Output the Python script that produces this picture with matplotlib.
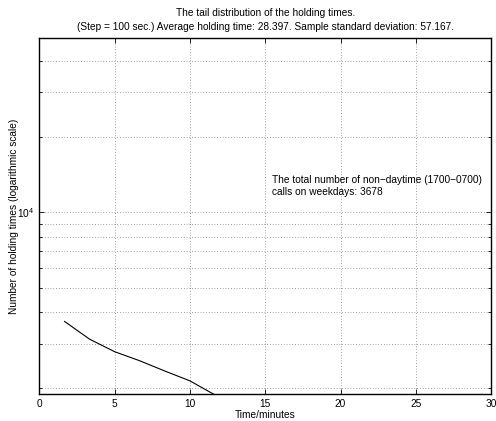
import numpy as np
import matplotlib
matplotlib.use("Agg")
import matplotlib.pyplot as plt
from matplotlib.ticker import LogLocator, NullFormatter, FixedLocator

plt.rcParams['font.family'] = ['Liberation Sans', 'DejaVu Sans']

# Holding-time tail distribution (step = 100 s)
time_min = [1.667, 3.333, 5.0, 6.667, 8.333, 10.0, 11.667]
counts = [3678, 3126, 2787, 2565, 2335, 2134, 1875]
x_ticks = [0, 5, 10, 15, 20, 25, 30]

title_lines = ["The tail distribution of the holding times.",
               "(Step = 100 sec.) Average holding time: 28.397. Sample standard deviation: 57.167."]
note_text = "The total number of non\u2212daytime (1700\u22120700)\ncalls on weekdays: 3678"

fs = 7.3

fig = plt.figure(figsize=(4.96, 4.21), dpi=100)
ax = fig.add_axes([0.0796, 0.0641, 0.9104, 0.8456])

ax.plot(time_min, counts, color='black', linewidth=0.8)

ax.set_yscale('log')
ax.set_xlim(0, 30)
ax.set_ylim(1892, 49380)
ax.xaxis.set_major_locator(FixedLocator(x_ticks))
ax.yaxis.set_major_locator(LogLocator(base=10, numticks=10))
ax.yaxis.set_minor_locator(LogLocator(base=10, subs=np.arange(2, 10), numticks=20))
ax.yaxis.set_minor_formatter(NullFormatter())

ax.grid(True, which='both', linestyle=(0, (1, 3)), color='black', linewidth=0.5, alpha=0.7)

ax.tick_params(which='both', direction='in', top=True, right=True, labelsize=fs, width=0.6)
ax.tick_params(which='major', length=3.5)
ax.tick_params(which='minor', length=2)
for s in ax.spines.values():
    s.set_linewidth(1.0)

ax.set_xlabel("Time/minutes", fontsize=fs, labelpad=1)
ax.set_ylabel("Number of holding times (logarithmic scale)", fontsize=fs)
ax.yaxis.set_label_coords(-0.046, 0.5)
ax.set_title("\n".join(title_lines), fontsize=fs, pad=6, linespacing=1.45)

ax.text(15.45, 12700, note_text, fontsize=fs, va='center', ha='left', linespacing=1.2)

fig.savefig("out.png", dpi=100)
